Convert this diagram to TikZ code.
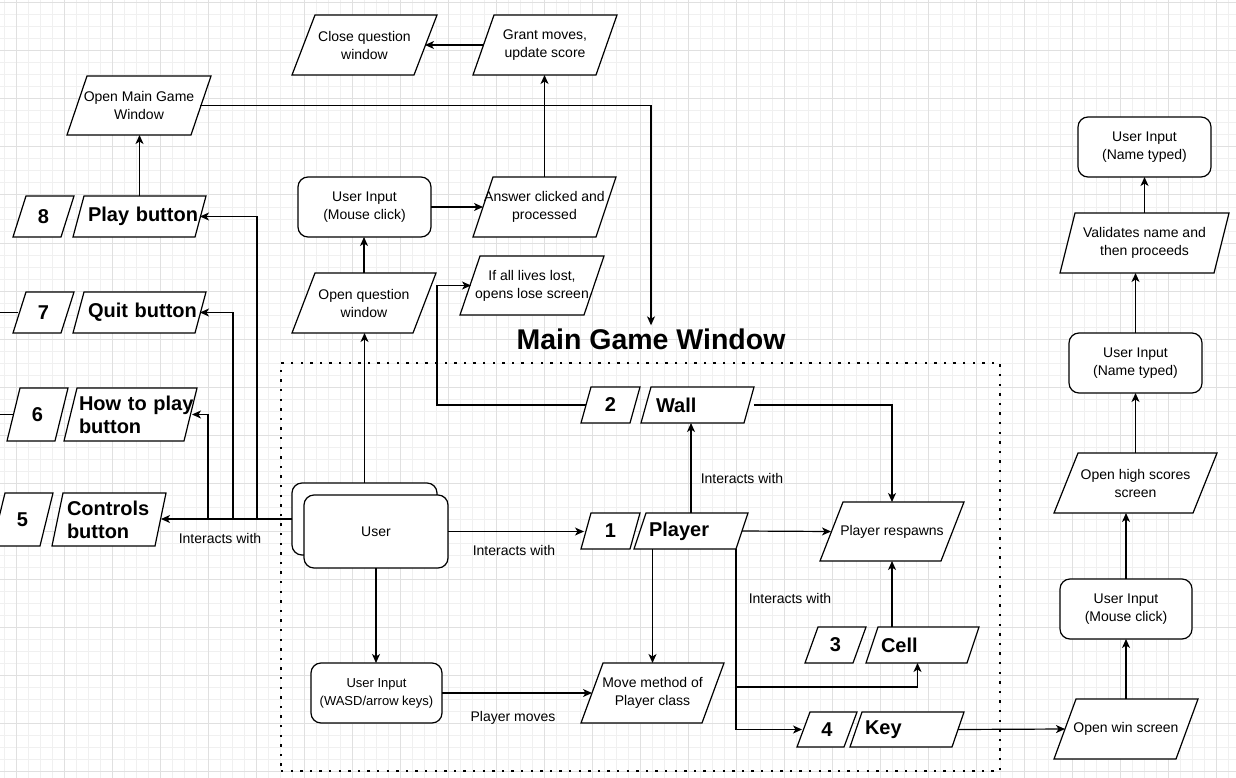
\documentclass[tikz,border=0pt]{standalone}
\usepackage{fontspec}
\setmainfont{Liberation Sans}
\usetikzlibrary{arrows.meta,backgrounds}
\newcommand\ftxt{\fontsize{14}{18}\selectfont}
\newcommand\fsmall{\fontsize{13}{18}\selectfont}
\newcommand\fbold{\fontsize{20}{23}\selectfont\bfseries}
\newcommand\ftitle{\fontsize{28.5}{32}\selectfont\bfseries}
\definecolor{gmaj}{HTML}{E0E0E0}
\definecolor{gmin}{HTML}{F0F0F0}
\begin{document}
\begin{tikzpicture}[x=1pt,y=-1pt,
  base/.style={inner sep=0pt, outer sep=0pt, font=\ftxt, align=center, text=black},
  pbox/.style={base},
  rbox/.style={base, draw, fill=white, rounded corners=10pt, line width=1.2pt},
  nbox/.style={base, font=\fbold},
  lbox/.style={base, font=\fbold, align=left, inner xsep=15pt},
  arr/.style={line width=1.2pt, -{Stealth[length=9pt,width=8pt,inset=2.5pt]}},
  conn/.style={line width=1.2pt},
  lbl/.style={font=\ftxt, inner sep=1pt},
  pshape/.style={draw, fill=white, line width=1.2pt, line join=miter},
  dotbox/.style={draw, line width=2.4pt, dash pattern=on 2.4pt off 7.2pt},
]
\useasboundingbox (0,0) rectangle (1236,778);
\begin{scope}[on background layer]
  \fill[white] (0,0) rectangle (1236,778);
  \foreach \x in {4,16,...,1236} \draw[gmin, line width=1pt] (\x,0) -- (\x,778);
  \foreach \y in {3,15,...,778} \draw[gmin, line width=1pt] (0,\y) -- (1236,\y);
  \foreach \x in {16,64,...,1236} \draw[gmaj, line width=1pt] (\x,0) -- (\x,778);
  \foreach \y in {3,51,...,778} \draw[gmaj, line width=1pt] (0,\y) -- (1236,\y);
\end{scope}

% dotted frame
\node[dotbox, minimum width=719pt, minimum height=408pt, inner sep=0pt, outer sep=0pt] (frame) at (640.5,567) {};

% top area
\node[pbox, minimum width=145pt, minimum height=60pt] (close) at (364.5,45) {Close question\\window};
\node[pbox, minimum width=144pt, minimum height=60pt] (grant) at (545,45) {Grant moves,\\update score};
\node[pbox, minimum width=144pt, minimum height=59pt] (openmain) at (139,105.5) {Open Main Game\\Window};

% menu buttons
\node[nbox, minimum width=61pt, minimum height=41pt] (eight) at (43.5,216.5) {8};
\node[lbox, minimum width=133pt, minimum height=41pt, text width=103pt] (play) at (139.5,216.5) {\mbox{Play button}};
\node[nbox, minimum width=61pt, minimum height=41pt] (seven) at (43.5,312.5) {7};
\node[lbox, minimum width=133pt, minimum height=41pt, text width=103pt] (quit) at (139.5,312.5) {\mbox{Quit button}};
\node[nbox, minimum width=61pt, minimum height=53pt] (six) at (37.5,414.5) {6};
\node[lbox, minimum width=133pt, minimum height=53pt, text width=103pt] (howto) at (130.5,414.5) {\mbox{How to play}\\\mbox{button}};
\node[nbox, minimum width=61pt, minimum height=53pt] (five) at (22.5,519.5) {5};
\node[lbox, minimum width=114pt, minimum height=53pt, text width=84pt] (controls) at (109,519.5) {\mbox{Controls}\\\mbox{button}};

% question flow
\node[rbox, minimum width=133pt, minimum height=60pt] (mouse1) at (364.5,207) {User Input\\(Mouse click)};
\node[pbox, minimum width=143pt, minimum height=60pt] (answer) at (544.5,207) {Answer clicked and\\processed};
\node[pbox, minimum width=144pt, minimum height=60pt] (openq) at (364,303) {Open question\\window};
\node[pbox, minimum width=144pt, minimum height=59pt] (lives) at (532,285.5) {If all lives lost,\\opens lose screen};

\node[font=\ftitle, inner sep=0pt] (title) at (651,339) {Main Game Window};

% main game window
\node[nbox, minimum width=59pt, minimum height=36pt] (two) at (610.5,405) {2};
\node[lbox, minimum width=113pt, minimum height=36pt, text width=83pt] (wall) at (697.5,405) {\mbox{Wall}};
\node[rbox, minimum width=145pt, minimum height=72pt] (userb) at (364.5,519) {};
\node[rbox, minimum width=144pt, minimum height=73pt] (user) at (376,531.5) {User};
\node[nbox, minimum width=59pt, minimum height=36pt] (one) at (610.5,531) {1};
\node[lbox, minimum width=114pt, minimum height=36pt, text width=84pt] (player) at (691,531) {\mbox{Player}};
\node[pbox, minimum width=144pt, minimum height=59pt] (respawn) at (892,531.5) {Player respawns};
\node[nbox, minimum width=61pt, minimum height=36pt] (three) at (835.5,645) {3};
\node[lbox, minimum width=113pt, minimum height=36pt, text width=83pt] (cell) at (922.5,645) {\mbox{Cell}};
\node[nbox, minimum width=60pt, minimum height=35pt] (four) at (827,729.5) {4};
\node[lbox, minimum width=114pt, minimum height=35pt, text width=84pt] (key) at (907,729.5) {\mbox{Key}};
\node[rbox, minimum width=131pt, minimum height=60pt, font=\fsmall] (wasd) at (376.5,693) {User Input\\(WASD/arrow keys)};
\node[pbox, minimum width=143pt, minimum height=60pt] (move) at (652.5,693) {Move method of\\Player class};

% right column
\node[pbox, minimum width=144pt, minimum height=60pt] (win) at (1126,729) {Open win screen};
\node[rbox, minimum width=132pt, minimum height=60pt] (mouse2) at (1126,609) {User Input\\(Mouse click)};
\node[pbox, minimum width=163pt, minimum height=60pt] (high) at (1135.5,483) {Open high scores\\screen};
\node[rbox, minimum width=133pt, minimum height=60pt] (name1) at (1135.5,363) {User Input\\(Name typed)};
\node[pbox, minimum width=169pt, minimum height=60pt] (validates) at (1144.5,243) {Validates name and\\then proceeds};
\node[rbox, minimum width=133pt, minimum height=60pt] (name2) at (1144.5,147) {User Input\\(Name typed)};

% parallelogram outlines
\begin{scope}[on background layer]
\foreach \n/\s in {close/23,grant/21,openmain/20,eight/13,play/11,seven/13,quit/11,six/13,howto/13,five/13,controls/11,answer/20,openq/23,lives/20,two/10,wall/10,one/10,player/12,respawn/23,three/13,cell/12,four/13,key/12,move/22,win/22,high/24,validates/15}
  \draw[pshape] ([xshift=\s*1pt]\n.north west) -- (\n.north east) -- ([xshift=-\s*1pt]\n.south east) -- (\n.south west) -- cycle;
\end{scope}

% free ends
\coordinate (e7) at (0,312.5);
\coordinate (e6) at (0,414.5);

% connectors
\draw[arr] ([xshift=10pt]grant.west) -- ([xshift=-12pt]close.east);
\draw[arr] ([xshift=-11pt]openmain.east) -| ([yshift=3pt]title.north);
\draw[arr] (play.north) -- (play.north |- openmain.south);
\draw[arr] (userb.west) -- ([xshift=-5pt]controls.east |- userb.west);
\draw[arr] (userb.west) -- ([xshift=-35pt]userb.west) |- ([xshift=-6pt]play.east);
\draw[arr] (userb.west) -- ([xshift=-59pt]userb.west) |- ([xshift=-6pt]quit.east);
\draw[arr] (userb.west) -- ([xshift=-84pt]userb.west) |- ([xshift=-5pt]howto.east);
\draw[conn] (e7) -- ([xshift=5pt]seven.west);
\draw[conn] (e6) -- ([xshift=6pt]six.west);
\draw[arr] (userb.north) -- (userb.north |- openq.south);
\draw[arr] (openq.north) -- (openq.north |- mouse1.south);
\draw[arr] (mouse1.east) -- ([xshift=10pt]answer.west);
\draw[arr] (answer.north) -- (answer.north |- grant.south);
\draw[arr] ([xshift=5pt]two.west) -| ([xshift=-23pt]lives.west) -- ([xshift=11pt]lives.west);
\draw[arr] (user.east) -- ([xshift=3pt]one.west |- user.east);
\draw[arr] (player.north) -- (player.north |- wall.south);
\draw[arr] (wall.east) -| (respawn.north);
\draw[arr] ([xshift=-6pt]player.east) -- ([xshift=11pt]respawn.west);
\draw[arr] (respawn.south |- cell.north) -- (respawn.south);
\draw[arr] ([xshift=-12pt]player.south east) |- ([xshift=-5pt,yshift=-24pt]cell.south) -- ([xshift=-5pt]cell.south);
\draw[arr] ([xshift=-12pt]player.south east) |- ([xshift=5pt]four.west);
\draw[arr] (move.north |- player.south) -- (move.north);
\draw[arr] (user.south) -- (user.south |- wasd.north);
\draw[arr] (wasd.east) -- ([xshift=11pt]move.west);
\draw[arr] ([xshift=-6pt]key.east) -- ([xshift=11pt]win.west);
\draw[arr] (win.north) -- (win.north |- mouse2.south);
\draw[arr] (mouse2.north) -- (mouse2.north |- high.south);
\draw[arr] (high.north) -- (high.north |- name1.south);
\draw[arr] (name1.north) -- (name1.north |- validates.south);
\draw[arr] (validates.north) -- (validates.north |- name2.south);

% connector labels
\node[lbl] (l1) at (220,538) {Interacts with};
\node[lbl] (l2) at (514,550) {Interacts with};
\node[lbl] (l3) at (742,478) {Interacts with};
\node[lbl] (l4) at (790,598) {Interacts with};
\node[lbl] (l5) at (513,718) {Player moves};
\end{tikzpicture}
\end{document}
